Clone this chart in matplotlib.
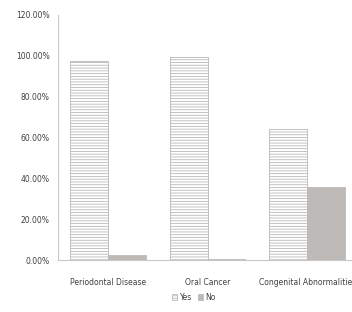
import matplotlib
matplotlib.use("Agg")
from matplotlib import pyplot as plt
import numpy as np

categories = ['Periodontal Disease', 'Oral Cancer', 'Congenital Abnormalities']
yes = [97.5, 99.3, 64.0]
no = [2.5, 0.7, 36.0]
yticks = [0, 20, 40, 60, 80, 100, 120]

plt.rcParams['font.family'] = ['Liberation Sans Narrow', 'DejaVu Sans']
plt.rcParams['hatch.linewidth'] = 0.6
plt.rcParams['hatch.color'] = '#b0b0b0'

fig = plt.figure(figsize=(3.52, 3.12), dpi=100)
ax = fig.add_axes([58/352, 52/312, 299/352, 245/312])

x = np.arange(len(categories))
w = 0.38
ax.bar(x - w/2, yes, w, color='white', edgecolor='#b8b8b8', hatch='------',
       linewidth=0.6, label='Yes')
ax.bar(x + w/2, no, w, color='#bdbab8', edgecolor='#bdbab8', linewidth=0.6, label='No')

ax.set_xlim(-0.5, 2.5)
ax.set_ylim(0, 120)
ax.set_yticks(yticks)
ax.set_yticklabels(['%.2f%%' % v for v in yticks], fontsize=5.5, color='#404040')
ax.set_xticks(x)
ax.set_xticklabels(categories, fontsize=5.5, color='#404040')
ax.tick_params(length=0, pad=6)
ax.tick_params(axis='x', pad=13)

for s in ['top', 'right']:
    ax.spines[s].set_visible(False)
for s in ['left', 'bottom']:
    ax.spines[s].set_color('#c8c8c8')
    ax.spines[s].set_linewidth(0.8)

fig.legend(loc='center', bbox_to_anchor=(194/352, 1 - 297/312), ncol=2, frameon=False,
           fontsize=5.5, handlelength=0.7, handleheight=0.7, columnspacing=0.8,
           handletextpad=0.3, labelcolor='#404040')

fig.savefig('out.png', dpi=100)
